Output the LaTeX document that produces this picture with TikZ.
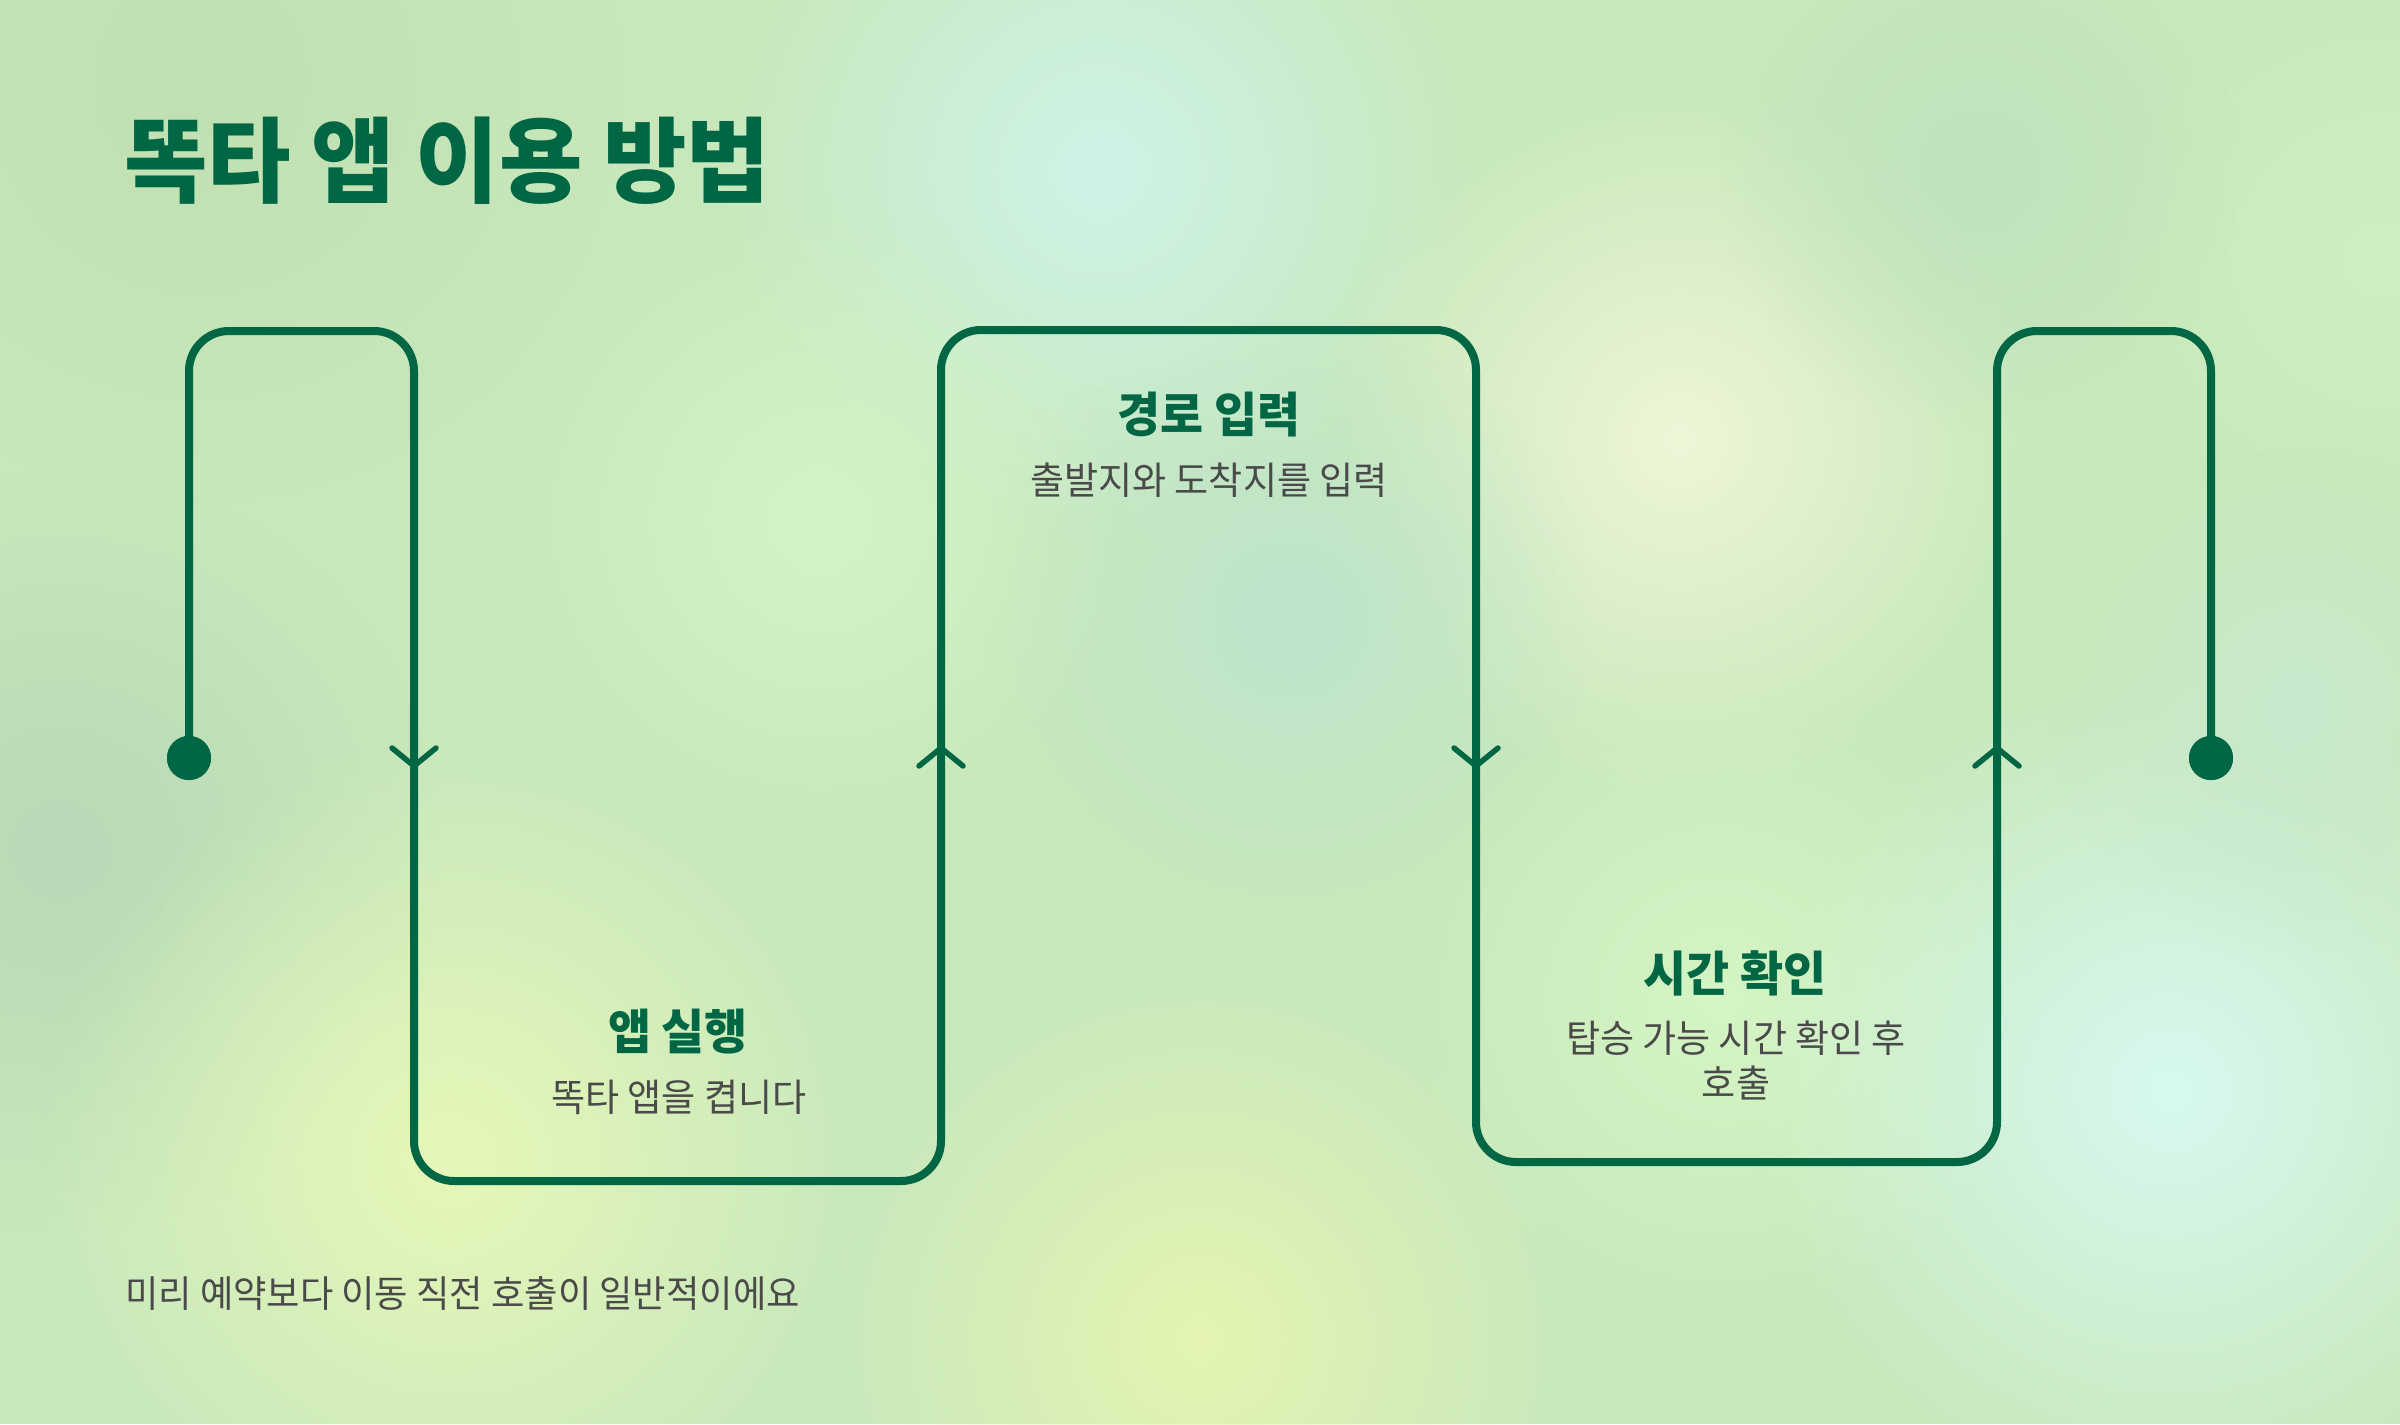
\documentclass[tikz,border=0pt]{standalone}
\usepackage{fontspec}
\usetikzlibrary{fadings}
\newfontfamily\kr[FakeStretch=0.975]{Noto Sans CJK KR}
\definecolor{dg}{HTML}{006644}
\definecolor{tg}{HTML}{4A4A4A}
\definecolor{bgbase}{HTML}{C8E8BC}
\tikzfading[name=softblob, inner color=transparent!0, outer color=transparent!100]
\begin{document}
\begin{tikzpicture}[x=1pt,y=-1pt,
  flow/.style={draw=dg, line width=8pt, rounded corners=40pt},
  chev/.style={draw=dg, line width=5.5pt, line cap=round, line join=round},
  dot/.style={circle, fill=dg, minimum size=44pt, inner sep=0pt},
  ttl/.style={font=\kr\bfseries\fontsize{93}{100}\selectfont, text=dg, inner sep=0pt},
  head/.style={font=\kr\bfseries\fontsize{48}{56}\selectfont, text=dg, inner sep=0pt},
  sub/.style={font=\kr\fontsize{38}{45}\selectfont, text=tg, inner sep=0pt, align=center},
  foottext/.style={font=\kr\fontsize{37.2}{45}\selectfont, text=tg, inner sep=0pt},
  bl/.style={path fading=softblob}]
\useasboundingbox (0,0) rectangle (2400,1424);
\begin{scope}
\clip (0,0) rectangle (2400,1424);
\fill[bgbase] (0,0) rectangle (2400,1424);
\fill[bl, color={rgb,255:red,192;green,224;blue,178}] (200,80) circle (420);
\fill[bl, color={rgb,255:red,184;green,216;blue,184}] (60,850) circle (380);
\fill[bl, color={rgb,255:red,207;green,243;blue,232}] (1100,170) circle (380);
\fill[bl, color={rgb,255:red,238;green,246;blue,216}] (1680,440) circle (360);
\fill[bl, color={rgb,255:red,213;green,243;blue,200}] (820,520) circle (320);
\fill[bl, color={rgb,255:red,190;green,228;blue,204}] (1290,620) circle (300);
\fill[bl, color={rgb,255:red,230;green,248;blue,184}] (450,1160) circle (420);
\fill[bl, color={rgb,255:red,228;green,245;blue,178}] (1200,1340) circle (380);
\fill[bl, color={rgb,255:red,214;green,245;blue,196}] (1720,1000) circle (330);
\fill[bl, color={rgb,255:red,216;green,249;blue,240}] (2170,1090) circle (420);
\fill[bl, color={rgb,255:red,208;green,239;blue,192}] (2380,260) circle (300);
\fill[bl, color={rgb,255:red,191;green,226;blue,190}] (1980,170) circle (260);
\fill[bl, color={rgb,255:red,200;green,232;blue,205}] (2300,700) circle (250);
\end{scope}

% path coordinates
\node[dot] (start) at (189,758) {};
\node[dot] (finish) at (2211,758) {};
\coordinate (p1) at (189,331);
\coordinate (p2) at (414,331);
\coordinate (p3) at (414,1181);
\coordinate (p4) at (941,1181);
\coordinate (p5) at (941,330);
\coordinate (p6) at (1476,330);
\coordinate (p7) at (1476,1162);
\coordinate (p8) at (1997,1162);
\coordinate (p9) at (1997,331);
\coordinate (p10) at (2211,331);
\draw[flow] (start.center) -- (p1) -- (p2) -- (p3) -- (p4) -- (p5) -- (p6) -- (p7) -- (p8) -- (p9) -- (p10) -- (finish.center);
\node[dot] at (start) {};
\node[dot] at (finish) {};

% chevrons
\coordinate (a1) at (414,757);
\coordinate (a2) at (941,757);
\coordinate (a3) at (1476,757);
\coordinate (a4) at (1997,757);
\draw[chev] ([shift={(-22,-9)}]a1) -- ([shift={(0,9)}]a1) -- ([shift={(22,-9)}]a1);
\draw[chev] ([shift={(-22,9)}]a2) -- ([shift={(0,-9)}]a2) -- ([shift={(22,9)}]a2);
\draw[chev] ([shift={(-22,-9)}]a3) -- ([shift={(0,9)}]a3) -- ([shift={(22,-9)}]a3);
\draw[chev] ([shift={(-22,9)}]a4) -- ([shift={(0,-9)}]a4) -- ([shift={(22,9)}]a4);

% texts
\node[ttl, anchor=west] (title) at (124,161) {똑타 앱 이용 방법};
\node[head] (h1) at (678,1032) {앱 실행};
\node[sub] (s1) at (679,1097) {똑타 앱을 켭니다};
\node[head] (h2) at (1209,415) {경로 입력};
\node[sub] (s2) at (1209,480) {출발지와 도착지를 입력};
\node[head] (h3) at (1735,973) {시간 확인};
\node[sub] (s3) at (1736,1060) {탑승 가능 시간 확인 후\\호출};
\node[foottext, anchor=west] (foot) at (125,1293) {미리 예약보다 이동 직전 호출이 일반적이에요};
\end{tikzpicture}
\end{document}
